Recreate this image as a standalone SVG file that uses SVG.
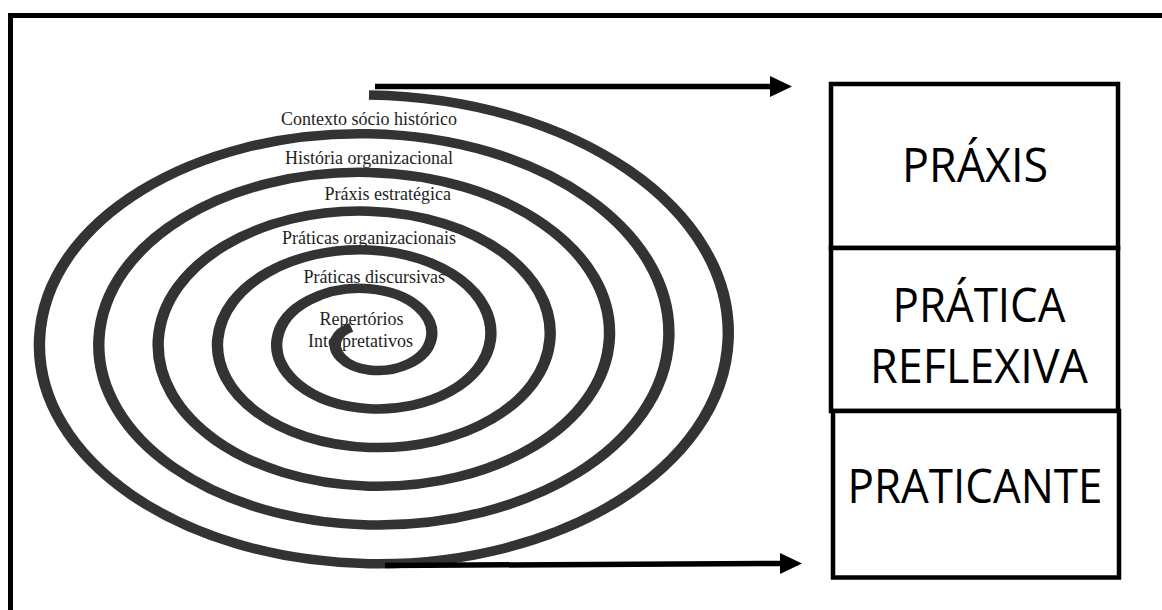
<svg xmlns="http://www.w3.org/2000/svg" width="1162" height="610" viewBox="0 0 1162 610">
<style>
.frame{fill:none;stroke:#000;stroke-width:5}
.box{fill:#fff;stroke:#000;stroke-width:4.5}
.boxtxt{font-family:"Open Sans","Noto Sans","Liberation Sans",sans-serif;font-size:47px;fill:#000;text-anchor:middle}
.lbl{font-family:"Liberation Serif","Times New Roman",serif;font-size:18px;fill:#1e1e1e}
.spiral{fill:none;stroke:#333;stroke-width:9.5;stroke-linecap:butt}
.conn{fill:none;stroke:#000;stroke-width:5.5}
</style>
<defs>
<marker id="ah" markerUnits="userSpaceOnUse" markerWidth="24" markerHeight="22" refX="1" refY="10.5" orient="auto">
<path d="M0,0 L22,10.5 L0,21 Z" fill="#000"/>
</marker>
</defs>
<rect x="0" y="0" width="1162" height="610" fill="#fff"/>
<rect class="frame" x="10.5" y="15.5" width="1200" height="700"/>

<g id="spiral-labels">
<text class="lbl" x="281" y="125">Contexto sócio histórico</text>
<text class="lbl" x="285" y="164">História organizacional</text>
<text class="lbl" x="324.5" y="200">Práxis estratégica</text>
<text class="lbl" x="282" y="244">Práticas organizacionais</text>
<text class="lbl" x="303.5" y="283">Práticas discursivas</text>
<text class="lbl" x="319.5" y="325">Repertórios</text>
<text class="lbl" x="308" y="347">Interpretativos</text>
</g>

<g id="spiral" transform="translate(369 339) scale(1.2 1)">
<path class="spiral" d="M0,-244
C172.13,-240.59 303.64,-129.41 299.29,0
C294.94,129.41 158.47,228.04 0,224.63
C-158.47,221.22 -278.89,118.72 -274.54,0
C-270.19,-118.72 -144.80,-208.67 0,-205.26
C144.80,-201.85 254.14,-108.02 249.79,0
C245.44,108.02 131.13,189.31 0,185.90
C-131.13,182.49 -229.39,97.32 -225.04,0
C-220.69,-97.32 -117.46,-169.94 0,-166.53
C117.46,-163.12 204.64,-86.62 200.29,0
C195.94,86.62 103.79,150.57 0,147.16
C-103.79,143.75 -179.89,75.93 -175.54,0
C-171.19,-75.93 -90.12,-131.20 0,-127.79
C90.12,-124.38 155.14,-65.23 150.79,0
C146.44,65.23 76.45,111.83 0,108.42
C-76.45,105.01 -130.39,54.53 -126.04,0
C-121.69,-54.53 -62.78,-92.47 0,-89.06
C62.78,-85.65 105.64,-43.84 101.29,0
C96.94,43.84 49.11,73.10 0,69.69
C-49.11,66.28 -80.89,33.14 -76.54,0
C-72.19,-33.14 -35.44,-53.73 0,-50.32
C35.44,-46.91 56.14,-22.45 51.79,0
C47.44,22.45 21.77,34.36 0,30.95
C-21.77,27.54 -31.39,11.75 -27.04,0
C-24.95,-5.64 -20.14,-9.69 -14.75,-11.62"/>
</g>

<g id="connectors">
<line class="conn" x1="375" y1="86.5" x2="771" y2="86.5" marker-end="url(#ah)"/>
<line class="conn" x1="385" y1="565.5" x2="781" y2="563.5" marker-end="url(#ah)"/>
</g>

<g id="node-praxis">
<rect class="box" x="831" y="84" width="287" height="164"/>
<text class="boxtxt" x="975" y="182" textLength="146" lengthAdjust="spacingAndGlyphs">PRÁXIS</text>
</g>
<g id="node-pratica-reflexiva">
<rect class="box" x="831" y="248" width="287" height="163"/>
<text class="boxtxt" x="979" y="322" textLength="173" lengthAdjust="spacingAndGlyphs">PRÁTICA</text>
<text class="boxtxt" x="979" y="383" textLength="218" lengthAdjust="spacingAndGlyphs">REFLEXIVA</text>
</g>
<g id="node-praticante">
<rect class="box" x="833" y="411" width="286" height="166.5"/>
<text class="boxtxt" x="975" y="503" textLength="255" lengthAdjust="spacingAndGlyphs">PRATICANTE</text>
</g>
</svg>
